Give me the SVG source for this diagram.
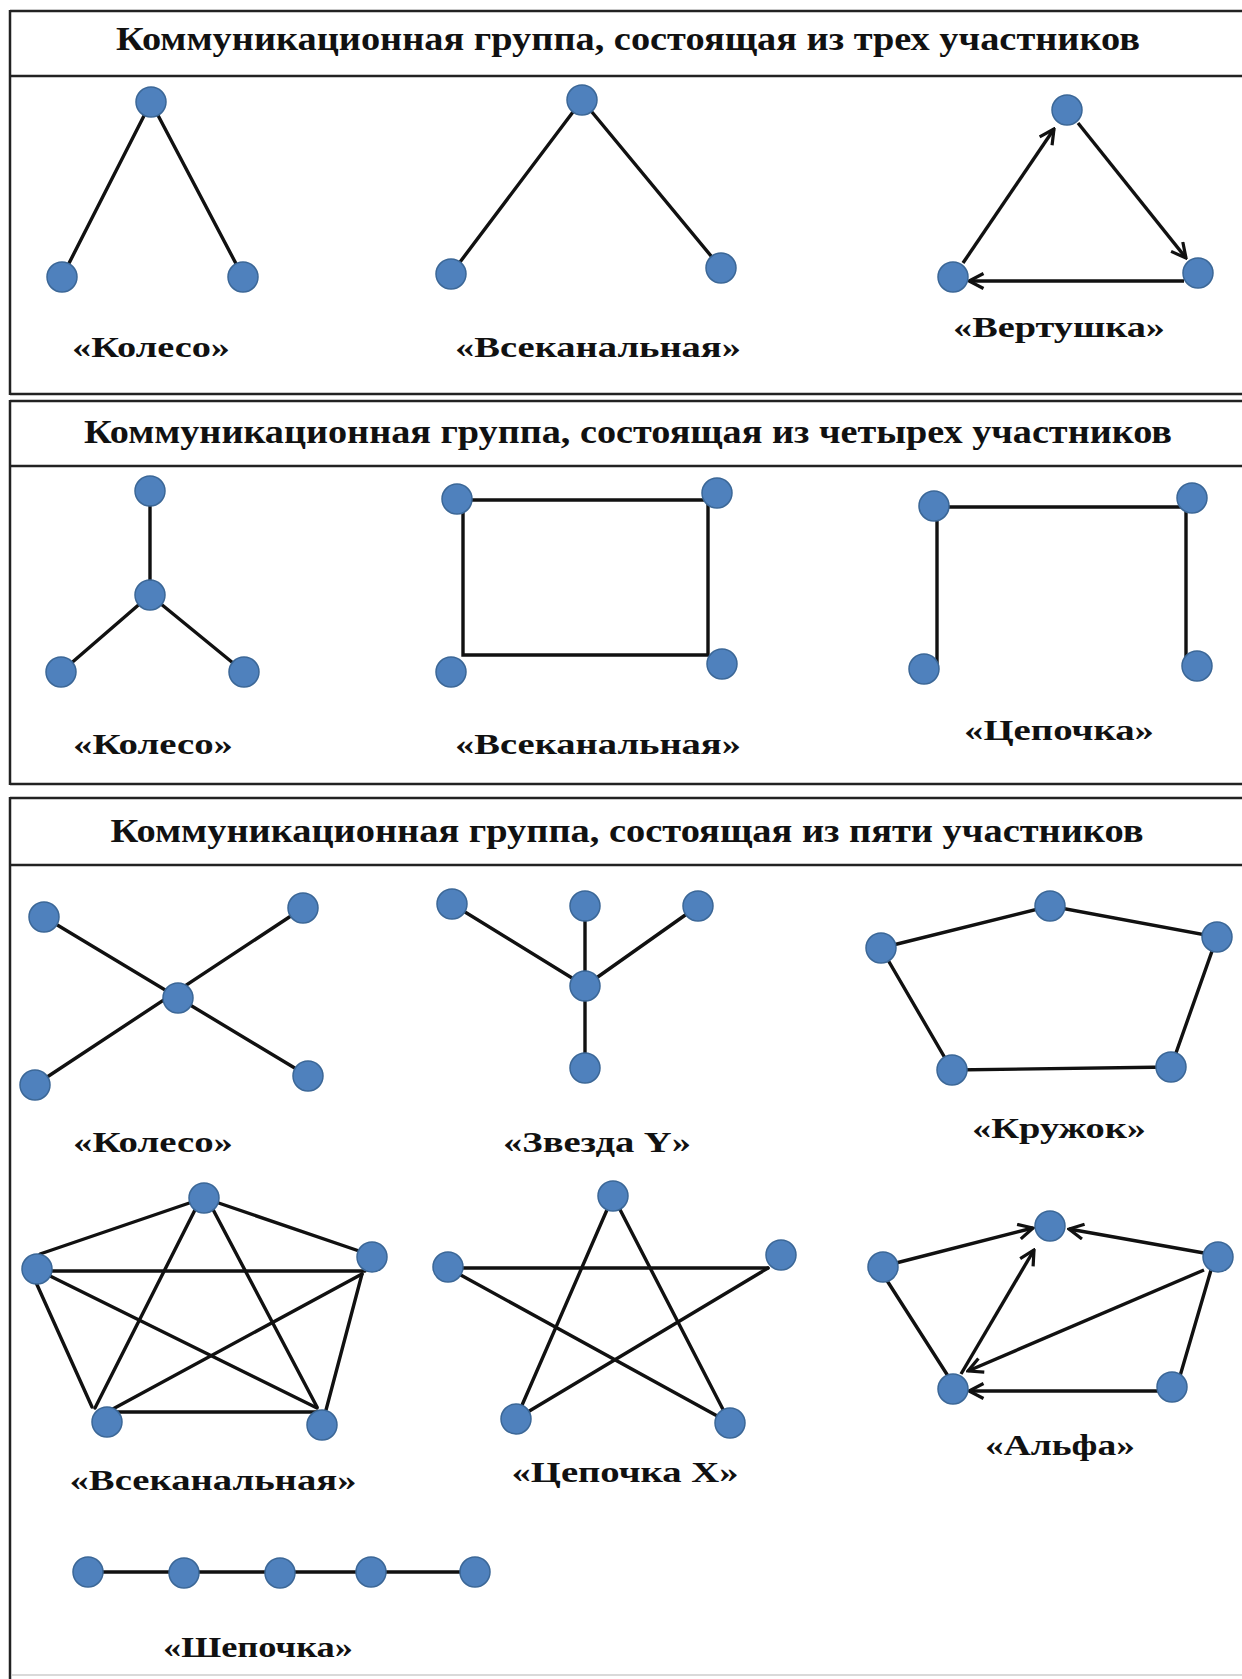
<svg xmlns="http://www.w3.org/2000/svg" width="1242" height="1679" viewBox="0 0 1242 1679">
<style>
.frame{stroke:#222;stroke-width:2.5;fill:none}
.faint{stroke:#ccc;stroke-width:1.5;fill:none}
.hd{font-family:"Liberation Serif","Times New Roman",serif;font-weight:bold;font-size:33px;fill:#111;text-anchor:middle}
.lb{font-family:"Liberation Serif","Times New Roman",serif;font-weight:bold;font-size:29px;fill:#111;text-anchor:middle}
.e{stroke:#111;stroke-width:3.4;fill:none;stroke-linecap:round}
.a{stroke:#111;stroke-width:3.4;fill:none;marker-end:url(#arr)}
circle{fill:#4F81BD;stroke:#3B6797;stroke-width:1.5}
</style>
<defs>
<marker id="arr" viewBox="0 0 18 18" refX="16" refY="9" markerWidth="18" markerHeight="18" markerUnits="userSpaceOnUse" orient="auto">
<path d="M1.5,1.5 L16,9 L1.5,16.5" fill="none" stroke="#111" stroke-width="3.2" stroke-linejoin="miter"/>
</marker>
</defs>
<rect width="1242" height="1679" fill="#fff"/>
<g id="frame">
<line class="frame" x1="10" y1="11" x2="1242" y2="11"/>
<line class="frame" x1="10" y1="76" x2="1242" y2="76"/>
<line class="frame" x1="10" y1="394" x2="1242" y2="394"/>
<line class="frame" x1="10" y1="10" x2="10" y2="395"/>
<line class="frame" x1="10" y1="401" x2="1242" y2="401"/>
<line class="frame" x1="10" y1="466" x2="1242" y2="466"/>
<line class="frame" x1="10" y1="784" x2="1242" y2="784"/>
<line class="frame" x1="10" y1="400" x2="10" y2="785"/>
<line class="frame" x1="10" y1="798" x2="1242" y2="798"/>
<line class="frame" x1="10" y1="865" x2="1242" y2="865"/>
<line class="frame" x1="10" y1="797" x2="10" y2="1679"/>
<line class="faint" x1="12" y1="1675" x2="1242" y2="1675"/>
<text class="hd" x="628" y="50" textLength="1024" lengthAdjust="spacingAndGlyphs">Коммуникационная группа, состоящая из трех участников</text>
<text class="hd" x="628" y="443" textLength="1088" lengthAdjust="spacingAndGlyphs">Коммуникационная группа, состоящая из четырех участников</text>
<text class="hd" x="627" y="842" textLength="1033" lengthAdjust="spacingAndGlyphs">Коммуникационная группа, состоящая из пяти участников</text>
</g>
<g id="connectors">
<line class="e" x1="151" y1="102" x2="62" y2="277"/>
<line class="e" x1="151" y1="102" x2="243" y2="277"/>
<line class="e" x1="582" y1="100" x2="451" y2="274"/>
<line class="e" x1="582" y1="100" x2="721" y2="268"/>
<line class="a" x1="963" y1="263" x2="1054" y2="129"/>
<line class="a" x1="1078" y1="123" x2="1186" y2="258"/>
<line class="a" x1="1184" y1="281" x2="969" y2="281"/>
<line class="e" x1="150" y1="491" x2="150" y2="595"/>
<line class="e" x1="150" y1="595" x2="61" y2="672"/>
<line class="e" x1="150" y1="595" x2="244" y2="672"/>
<polyline class="e" points="463,500 708,500 708,655 463,655 463,500"/>
<line class="e" x1="937" y1="670" x2="937" y2="507"/>
<line class="e" x1="934" y1="507" x2="1188" y2="507"/>
<line class="e" x1="1186" y1="498" x2="1186" y2="664"/>
<line class="e" x1="44" y1="917" x2="308" y2="1076"/>
<line class="e" x1="303" y1="908" x2="35" y2="1085"/>
<line class="e" x1="452" y1="904" x2="585" y2="986"/>
<line class="e" x1="585" y1="906" x2="585" y2="1068"/>
<line class="e" x1="698" y1="906" x2="585" y2="986"/>
<polyline class="e" points="881,948 1050,906 1217,937 1171,1067 952,1070 881,948"/>
<line class="e" x1="204" y1="1198" x2="40" y2="1254"/>
<line class="e" x1="204" y1="1198" x2="362" y2="1252"/>
<line class="e" x1="200" y1="1200" x2="95" y2="1408"/>
<line class="e" x1="208" y1="1200" x2="317" y2="1407"/>
<line class="e" x1="40" y1="1271" x2="365" y2="1271"/>
<line class="e" x1="44" y1="1273" x2="317" y2="1408"/>
<line class="e" x1="362" y1="1274" x2="111" y2="1410"/>
<line class="e" x1="34" y1="1278" x2="92" y2="1407"/>
<line class="e" x1="362" y1="1274" x2="326" y2="1410"/>
<line class="e" x1="110" y1="1412" x2="318" y2="1412"/>
<line class="e" x1="448" y1="1268" x2="768" y2="1268"/>
<line class="e" x1="768" y1="1268" x2="516" y2="1419"/>
<line class="e" x1="448" y1="1268" x2="730" y2="1423"/>
<line class="e" x1="613" y1="1196" x2="516" y2="1419"/>
<line class="e" x1="613" y1="1196" x2="730" y2="1423"/>
<line class="a" x1="896" y1="1263" x2="1033" y2="1228"/>
<line class="a" x1="1204" y1="1253" x2="1069" y2="1229"/>
<line class="a" x1="961" y1="1374" x2="1034" y2="1250"/>
<line class="a" x1="1204" y1="1270" x2="968" y2="1371"/>
<line class="a" x1="1158" y1="1391" x2="969" y2="1391"/>
<line class="e" x1="886" y1="1279" x2="948" y2="1376"/>
<line class="e" x1="1211" y1="1270" x2="1180" y2="1376"/>
<line class="e" x1="88" y1="1572" x2="475" y2="1572"/>
</g>
<g id="nodes">
<g id="s1-wheel-top"><circle cx="151" cy="102" r="15"/></g>
<g id="s1-wheel-left"><circle cx="62" cy="277" r="15"/></g>
<g id="s1-wheel-right"><circle cx="243" cy="277" r="15"/></g>
<g id="s1-all-top"><circle cx="582" cy="100" r="15"/></g>
<g id="s1-all-left"><circle cx="451" cy="274" r="15"/></g>
<g id="s1-all-right"><circle cx="721" cy="268" r="15"/></g>
<g id="s1-pin-top"><circle cx="1067" cy="110" r="15"/></g>
<g id="s1-pin-left"><circle cx="953" cy="277" r="15"/></g>
<g id="s1-pin-right"><circle cx="1198" cy="273" r="15"/></g>
<g id="s2-wheel-top"><circle cx="150" cy="491" r="15"/></g>
<g id="s2-wheel-center"><circle cx="150" cy="595" r="15"/></g>
<g id="s2-wheel-left"><circle cx="61" cy="672" r="15"/></g>
<g id="s2-wheel-right"><circle cx="244" cy="672" r="15"/></g>
<g id="s2-all-tl"><circle cx="457" cy="499" r="15"/></g>
<g id="s2-all-tr"><circle cx="717" cy="493" r="15"/></g>
<g id="s2-all-bl"><circle cx="451" cy="672" r="15"/></g>
<g id="s2-all-br"><circle cx="722" cy="664" r="15"/></g>
<g id="s2-chain-tl"><circle cx="934" cy="506" r="15"/></g>
<g id="s2-chain-tr"><circle cx="1192" cy="498" r="15"/></g>
<g id="s2-chain-bl"><circle cx="924" cy="669" r="15"/></g>
<g id="s2-chain-br"><circle cx="1197" cy="666" r="15"/></g>
<g id="s3-wheel-tl"><circle cx="44" cy="917" r="15"/></g>
<g id="s3-wheel-tr"><circle cx="303" cy="908" r="15"/></g>
<g id="s3-wheel-c"><circle cx="178" cy="998" r="15"/></g>
<g id="s3-wheel-bl"><circle cx="35" cy="1085" r="15"/></g>
<g id="s3-wheel-br"><circle cx="308" cy="1076" r="15"/></g>
<g id="s3-stary-tl"><circle cx="452" cy="904" r="15"/></g>
<g id="s3-stary-tm"><circle cx="585" cy="906" r="15"/></g>
<g id="s3-stary-tr"><circle cx="698" cy="906" r="15"/></g>
<g id="s3-stary-c"><circle cx="585" cy="986" r="15"/></g>
<g id="s3-stary-b"><circle cx="585" cy="1068" r="15"/></g>
<g id="s3-circle-t"><circle cx="1050" cy="906" r="15"/></g>
<g id="s3-circle-r"><circle cx="1217" cy="937" r="15"/></g>
<g id="s3-circle-l"><circle cx="881" cy="948" r="15"/></g>
<g id="s3-circle-bl"><circle cx="952" cy="1070" r="15"/></g>
<g id="s3-circle-br"><circle cx="1171" cy="1067" r="15"/></g>
<g id="s3-all-t"><circle cx="204" cy="1198" r="15"/></g>
<g id="s3-all-r"><circle cx="372" cy="1257" r="15"/></g>
<g id="s3-all-l"><circle cx="37" cy="1269" r="15"/></g>
<g id="s3-all-bl"><circle cx="107" cy="1422" r="15"/></g>
<g id="s3-all-br"><circle cx="322" cy="1425" r="15"/></g>
<g id="s3-starx-t"><circle cx="613" cy="1196" r="15"/></g>
<g id="s3-starx-r"><circle cx="781" cy="1255" r="15"/></g>
<g id="s3-starx-l"><circle cx="448" cy="1267" r="15"/></g>
<g id="s3-starx-bl"><circle cx="516" cy="1419" r="15"/></g>
<g id="s3-starx-br"><circle cx="730" cy="1423" r="15"/></g>
<g id="s3-alpha-t"><circle cx="1050" cy="1226" r="15"/></g>
<g id="s3-alpha-l"><circle cx="883" cy="1267" r="15"/></g>
<g id="s3-alpha-r"><circle cx="1218" cy="1257" r="15"/></g>
<g id="s3-alpha-bl"><circle cx="953" cy="1389" r="15"/></g>
<g id="s3-alpha-br"><circle cx="1172" cy="1387" r="15"/></g>
<g id="s3-chain-1"><circle cx="88" cy="1572" r="15"/></g>
<g id="s3-chain-2"><circle cx="184" cy="1573" r="15"/></g>
<g id="s3-chain-3"><circle cx="280" cy="1573" r="15"/></g>
<g id="s3-chain-4"><circle cx="371" cy="1572" r="15"/></g>
<g id="s3-chain-5"><circle cx="475" cy="1572" r="15"/></g>
</g>
<g id="labels">
<text class="lb" x="151" y="357" textLength="158" lengthAdjust="spacingAndGlyphs">«Колесо»</text>
<text class="lb" x="598" y="357" textLength="286" lengthAdjust="spacingAndGlyphs">«Всеканальная»</text>
<text class="lb" x="1059" y="337" textLength="212" lengthAdjust="spacingAndGlyphs">«Вертушка»</text>
<text class="lb" x="153" y="754" textLength="160" lengthAdjust="spacingAndGlyphs">«Колесо»</text>
<text class="lb" x="598" y="754" textLength="286" lengthAdjust="spacingAndGlyphs">«Всеканальная»</text>
<text class="lb" x="1059" y="740" textLength="190" lengthAdjust="spacingAndGlyphs">«Цепочка»</text>
<text class="lb" x="153" y="1152" textLength="160" lengthAdjust="spacingAndGlyphs">«Колесо»</text>
<text class="lb" x="597" y="1152" textLength="188" lengthAdjust="spacingAndGlyphs">«Звезда Y»</text>
<text class="lb" x="1059" y="1138" textLength="174" lengthAdjust="spacingAndGlyphs">«Кружок»</text>
<text class="lb" x="213" y="1490" textLength="287" lengthAdjust="spacingAndGlyphs">«Всеканальная»</text>
<text class="lb" x="625" y="1482" textLength="227" lengthAdjust="spacingAndGlyphs">«Цепочка X»</text>
<text class="lb" x="1060" y="1455" textLength="150" lengthAdjust="spacingAndGlyphs">«Альфа»</text>
<text class="lb" x="258" y="1657" textLength="190" lengthAdjust="spacingAndGlyphs">«Шепочка»</text>
</g>
</svg>
